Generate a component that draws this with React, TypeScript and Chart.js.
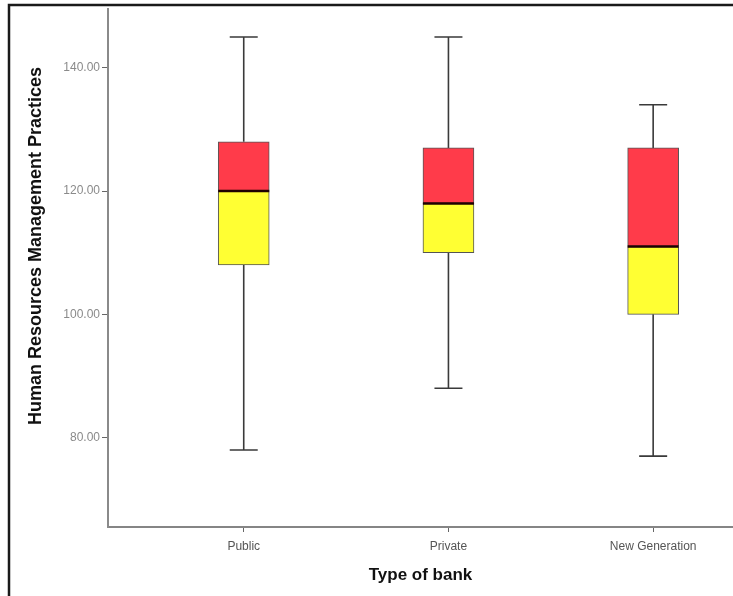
import React, { useEffect, useRef } from "react";
import { Chart, registerables } from "chart.js";

Chart.register(...registerables);

const categories = ["Public", "Private", "New Generation"];
const positions = [1, 2, 3];
const mins = [78, 88, 77];
const q1s = [108, 110, 100];
const medians = [120, 118, 111];
const q3s = [128, 127, 127];
const maxs = [145, 145, 134];
const yTicks = [80, 100, 120, 140];
const yTitle = "Human Resources Management Practices";

const FONT = "'Liberation Sans', Arial, sans-serif";
const BOX_W = 51;
const CAP_HALF = 14;

const boxPlugin = {
  id: "boxParts",
  beforeDatasetsDraw(chart: any) {
    const { ctx, scales } = chart;
    const xs = scales.x;
    const ys = scales.y;
    ctx.save();
    ctx.strokeStyle = "#3a3a3a";
    ctx.lineWidth = 1.6;
    positions.forEach((p, i) => {
      const x = xs.getPixelForValue(p);
      const yMax = ys.getPixelForValue(maxs[i]);
      const yMin = ys.getPixelForValue(mins[i]);
      const yQ3 = ys.getPixelForValue(q3s[i]);
      const yQ1 = ys.getPixelForValue(q1s[i]);
      ctx.beginPath();
      ctx.moveTo(x, yMax);
      ctx.lineTo(x, yQ3);
      ctx.moveTo(x, yQ1);
      ctx.lineTo(x, yMin);
      ctx.moveTo(x - CAP_HALF, yMax);
      ctx.lineTo(x + CAP_HALF, yMax);
      ctx.moveTo(x - CAP_HALF, yMin);
      ctx.lineTo(x + CAP_HALF, yMin);
      ctx.stroke();
    });
    ctx.restore();
  },
  afterDatasetsDraw(chart: any) {
    const { ctx, scales } = chart;
    const xs = scales.x;
    const ys = scales.y;
    ctx.save();
    ctx.strokeStyle = "#1e0000";
    ctx.lineWidth = 2.5;
    positions.forEach((p, i) => {
      const x = xs.getPixelForValue(p);
      const y = ys.getPixelForValue(medians[i]);
      ctx.beginPath();
      ctx.moveTo(x - BOX_W / 2, y);
      ctx.lineTo(x + BOX_W / 2, y);
      ctx.stroke();
    });
    ctx.restore();
  },
  afterDraw(chart: any) {
    const { ctx } = chart;
    ctx.save();
    // y-axis title
    ctx.translate(36.5, 246);
    ctx.rotate(-Math.PI / 2);
    ctx.fillStyle = "#111111";
    ctx.font = `bold 18px ${FONT}`;
    ctx.textAlign = "center";
    ctx.textBaseline = "middle";
    ctx.fillText(yTitle, 0, 0);
    ctx.restore();
    ctx.save();
    ctx.strokeStyle = "#1a1a1a";
    ctx.lineWidth = 2.5;
    ctx.strokeRect(9, 5, 900, 900);
    ctx.restore();
  },
};

export default function App() {
  const ref = useRef<HTMLCanvasElement | null>(null);

  useEffect(() => {
    if (!ref.current) return;
    const chart = new Chart(ref.current, {
      type: "bar",
      data: {
        datasets: [
          {
            data: positions.map((p, i) => ({ x: p, y: [q1s[i], medians[i]] })) as any,
            backgroundColor: "#FFFF33",
            borderColor: "#555555",
            borderWidth: 1,
            borderSkipped: false,
            barThickness: BOX_W,
            grouped: false,
          } as any,
          {
            data: positions.map((p, i) => ({ x: p, y: [medians[i], q3s[i]] })) as any,
            backgroundColor: "#FF3B4A",
            borderColor: "#555555",
            borderWidth: 1,
            borderSkipped: false,
            barThickness: BOX_W,
            grouped: false,
          } as any,
        ],
      },
      options: {
        animation: false,
        responsive: false,
        events: [],
        layout: { padding: { left: 0, top: 4, right: 0, bottom: 0 } },
        plugins: { legend: { display: false }, tooltip: { enabled: false } },
        scales: {
          x: {
            type: "linear",
            min: 0.337,
            max: 3.39,
            offset: false,
            afterBuildTicks: (scale: any) => {
              scale.ticks = positions.map((v) => ({ value: v }));
            },
            afterFit: (scale: any) => {
              scale.height = 69;
            },
            grid: {
              offset: false,
              drawOnChartArea: false,
              drawTicks: true,
              tickLength: 5,
              color: "#666666",
            },
            border: { display: true, color: "#858585", width: 2 },
            ticks: {
              autoSkip: false,
              maxRotation: 0,
              padding: 7,
              color: "#555555",
              font: { family: FONT, size: 12 },
              callback: (v: any) => categories[positions.indexOf(Number(v))] ?? "",
            },
            title: {
              display: true,
              text: "Type of bank",
              color: "#111111",
              font: { family: FONT, size: 17, weight: "bold" },
              padding: { top: 0, bottom: 10 },
            },
          },
          y: {
            type: "linear",
            min: 65.5,
            max: 149.5,
            afterBuildTicks: (scale: any) => {
              scale.ticks = yTicks.map((v) => ({ value: v }));
            },
            afterFit: (scale: any) => {
              scale.width = 108;
            },
            grid: {
              drawOnChartArea: false,
              drawTicks: true,
              tickLength: 6,
              color: "#666666",
            },
            border: { display: true, color: "#8a8a8a", width: 2 },
            ticks: {
              padding: 2,
              color: "#8a8a8a",
              font: { family: FONT, size: 12 },
              callback: (v: any) => Number(v).toFixed(2),
            },
            title: { display: false },
          },
        },
      },
      plugins: [boxPlugin],
    } as any);
    return () => chart.destroy();
  }, []);

  return (
    <div style={{ position: "fixed", left: 0, top: 0, width: 733, height: 596, background: "#ffffff" }}>
      <canvas ref={ref} width={733} height={596} style={{ display: "block" }} />
    </div>
  );
}
